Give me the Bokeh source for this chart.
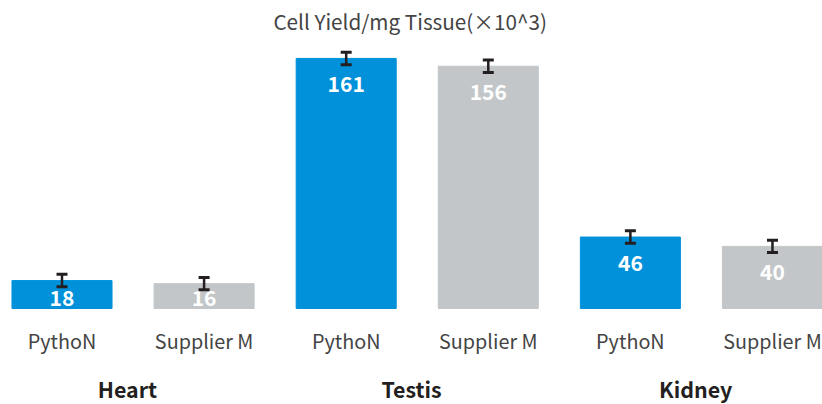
from bokeh.plotting import figure
from bokeh.models import ColumnDataSource, Range1d, Whisker, TeeHead
from bokeh.core.properties import value
from bokeh.embed import file_html
from bokeh.resources import INLINE

# ---- data ----
tissues = ["Heart", "Testis", "Kidney"]
suppliers = ["PythoN", "Supplier M"]
yields = [18, 16, 161, 156, 46, 40]
errors = [4, 4, 4, 4, 4, 4]
title_text = "Cell Yield/mg Tissue(\u00d710^3)"

BLUE = "#0091DA"
GRAY = "#C2C6C8"
FONT = "Noto Sans CJK SC"

n = len(yields)
xs = list(range(n))
cats = [suppliers[i % 2] for i in range(n)]
colors = [BLUE if i % 2 == 0 else GRAY for i in range(n)]
lab_y = [max(v - 16.5, 7.0) for v in yields]

src = ColumnDataSource(dict(
    x=xs, top=yields, color=colors, cat=cats,
    label=[str(v) for v in yields], lab_y=lab_y,
    cat_y=[-20.5] * n,
    upper=[v + e for v, e in zip(yields, errors)],
    lower=[v - e for v, e in zip(yields, errors)],
))

# pixel mapping: baseline at y=308, 1.553 px / unit; frame = 0..404
p = figure(width=822, height=404, output_backend="svg", toolbar_location=None,
           x_range=Range1d(-0.4328, 5.352), y_range=Range1d(-61.8, 198.3),
           min_border=0, min_border_left=0, min_border_right=0,
           min_border_top=0, min_border_bottom=0)
p.xaxis.visible = False
p.yaxis.visible = False
p.xgrid.visible = False
p.ygrid.visible = False
p.outline_line_color = None
p.background_fill_color = "white"
p.border_fill_color = "white"

p.vbar(x="x", top="top", bottom=0, width=0.704, color="color", source=src)

EB = "#231F20"
wh = Whisker(base="x", upper="upper", lower="lower", source=src,
             line_color=EB, line_width=2.5, level="overlay",
             upper_head=TeeHead(size=11, line_color=EB, line_width=3),
             lower_head=TeeHead(size=11, line_color=EB, line_width=3))
p.add_layout(wh)

p.text(x="x", y="lab_y", text="label", source=src, text_color="white",
       text_font=value(FONT), text_font_style="bold", text_font_size="21px",
       text_align="center", text_baseline="middle")

p.text(x="x", y="cat_y", text="cat", source=src, text_color="#444444",
       text_font=value(FONT), text_font_size="19.8px",
       text_align="center", text_baseline="middle")

gx = [2 * i + 0.5 - 0.04 for i in range(len(tissues))]
p.text(x=gx, y=[-51.5] * len(tissues), text=tissues, text_color="#231F20",
       text_font=value(FONT), text_font_style="bold", text_font_size="21.4px",
       text_align="center", text_baseline="middle")

p.text(x=[2.45], y=[185.4], text=[title_text], text_color="#444444",
       text_font=value(FONT), text_font_size="20.7px",
       text_align="center", text_baseline="middle")

open("out.html", "w").write(file_html(p, INLINE))
